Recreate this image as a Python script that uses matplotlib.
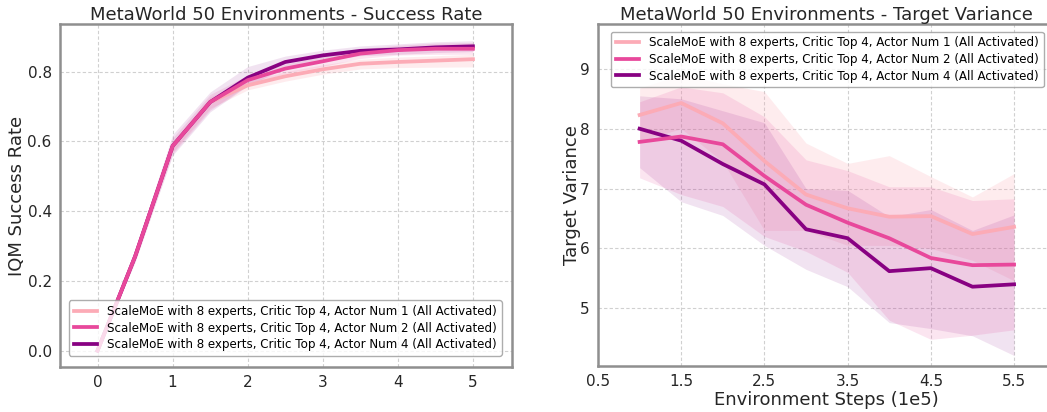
import matplotlib
matplotlib.use("Agg")
import matplotlib.pyplot as plt
import numpy as np

# ---- data ----
labels = [
    "ScaleMoE with 8 experts, Critic Top 4, Actor Num 1 (All Activated)",
    "ScaleMoE with 8 experts, Critic Top 4, Actor Num 2 (All Activated)",
    "ScaleMoE with 8 experts, Critic Top 4, Actor Num 4 (All Activated)",
]
colors = ["#fcabb6", "#e8489b", "#880182"]
line_z = [3, 5, 4]

# success rate (left panel)
sr_steps = [0, 0.5, 1, 1.5, 2, 2.5, 3, 3.5, 4, 4.5, 5]
sr_num1 = [0.0, 0.27, 0.587, 0.713, 0.761, 0.787, 0.807, 0.823, 0.828, 0.832, 0.836]
sr_num2 = [0.0, 0.27, 0.587, 0.713, 0.776, 0.809, 0.830, 0.852, 0.862, 0.866, 0.866]
sr_num4 = [0.0, 0.27, 0.587, 0.713, 0.783, 0.828, 0.847, 0.860, 0.864, 0.870, 0.873]
sr_num1_lo = [0.0, 0.26, 0.57, 0.695, 0.748, 0.773, 0.793, 0.808, 0.812, 0.813, 0.814]
sr_num1_hi = [0.0, 0.28, 0.60, 0.728, 0.773, 0.800, 0.820, 0.836, 0.842, 0.846, 0.850]
sr_num2_lo = [0.0, 0.255, 0.565, 0.69, 0.762, 0.795, 0.815, 0.838, 0.848, 0.850, 0.850]
sr_num2_hi = [0.0, 0.285, 0.61, 0.735, 0.790, 0.822, 0.845, 0.866, 0.876, 0.882, 0.884]
sr_num4_lo = [0.0, 0.255, 0.56, 0.685, 0.76, 0.810, 0.832, 0.846, 0.850, 0.855, 0.858]
sr_num4_hi = [0.0, 0.29, 0.62, 0.742, 0.815, 0.845, 0.862, 0.874, 0.880, 0.886, 0.889]

# target variance (right panel)
tv_steps = [1, 1.5, 2, 2.5, 3, 3.5, 4, 4.5, 5, 5.5]
tv_num1 = [8.23, 8.43, 8.09, 7.46, 6.90, 6.67, 6.53, 6.54, 6.24, 6.36]
tv_num2 = [7.78, 7.87, 7.74, 7.21, 6.73, 6.43, 6.17, 5.84, 5.72, 5.73]
tv_num4 = [8.00, 7.80, 7.41, 7.07, 6.32, 6.17, 5.62, 5.67, 5.36, 5.40]
tv_num1_lo = [7.80, 8.00, 7.45, 6.30, 6.30, 6.05, 6.05, 6.00, 5.80, 5.46]
tv_num1_hi = [8.68, 8.90, 8.75, 8.62, 7.76, 7.42, 7.55, 7.20, 6.86, 7.25]
tv_num2_lo = [7.18, 6.90, 6.70, 6.20, 5.95, 5.60, 4.80, 4.48, 4.55, 4.64]
tv_num2_hi = [8.45, 8.70, 8.60, 8.20, 7.48, 7.30, 7.03, 7.03, 6.80, 6.83]
tv_num4_lo = [7.35, 6.78, 6.55, 6.05, 5.65, 5.36, 4.76, 4.66, 4.54, 4.21]
tv_num4_hi = [8.55, 8.50, 8.30, 8.10, 7.00, 6.97, 6.53, 6.65, 6.30, 6.56]

plt.rcParams["font.family"] = ["DejaVu Sans"]

W, H = 1047, 412
fig = plt.figure(figsize=(W / 100, H / 100), dpi=100)
ax1 = fig.add_axes([60 / W, 1 - 367 / H, 452 / W, 343 / H])
ax2 = fig.add_axes([598 / W, 1 - 366 / H, 456 / W, 342 / H])

band_alpha = [0.22, 0.14, 0.11]


def style(ax):
    ax.set_facecolor("white")
    for s in ax.spines.values():
        s.set_color("#8f8f8f")
        s.set_linewidth(1.8)
    ax.grid(True, linestyle=(0, (3, 2)), color="#d0d0d0", linewidth=0.8)
    ax.set_axisbelow(True)
    ax.tick_params(length=0, labelsize=11, colors="#262626", pad=6)


# left panel
style(ax1)
sr_means = [sr_num1, sr_num2, sr_num4]
sr_los = [sr_num1_lo, sr_num2_lo, sr_num4_lo]
sr_his = [sr_num1_hi, sr_num2_hi, sr_num4_hi]
for lo, hi, c, a in zip(sr_los, sr_his, colors, band_alpha):
    ax1.fill_between(sr_steps, lo, hi, color=c, alpha=a, linewidth=0)
for m, c, lab, z in zip(sr_means, colors, labels, line_z):
    ax1.plot(sr_steps, m, color=c, linewidth=2.7, label=lab, zorder=z)
ax1.set_xlim(-0.5, 5.52)
ax1.set_ylim(-0.047, 0.937)
ax1.set_xticks([0, 1, 2, 3, 4, 5])
ax1.set_yticks([0.0, 0.2, 0.4, 0.6, 0.8])
ax1.set_ylabel("IQM Success Rate", fontsize=13, color="#262626", labelpad=1)
ax1.set_title("MetaWorld 50 Environments - Success Rate", fontsize=13,
              color="#262626", pad=3)
ax1.legend(loc="lower right", fontsize=8.6, framealpha=0.8, edgecolor="#999999",
           handlelength=2.0, borderpad=0.4, labelspacing=0.3,
           bbox_to_anchor=(0.99, 0.015))

# right panel
style(ax2)
tv_means = [tv_num1, tv_num2, tv_num4]
tv_los = [tv_num1_lo, tv_num2_lo, tv_num4_lo]
tv_his = [tv_num1_hi, tv_num2_hi, tv_num4_hi]
for lo, hi, c, a in zip(tv_los, tv_his, colors, band_alpha):
    ax2.fill_between(tv_steps, lo, hi, color=c, alpha=a, linewidth=0)
for m, c, lab, z in zip(tv_means, colors, labels, line_z):
    ax2.plot(tv_steps, m, color=c, linewidth=2.7, label=lab, zorder=z)
ax2.set_xlim(0.5, 5.98)
ax2.set_ylim(4.035, 9.75)
ax2.set_xticks([0.5, 1.5, 2.5, 3.5, 4.5, 5.5])
ax2.set_xticklabels(["0.5", "1.5", "2.5", "3.5", "4.5", "5.5"])
ax2.set_yticks([5, 6, 7, 8, 9])
ax2.set_ylabel("Target Variance", fontsize=13, color="#262626", labelpad=-1)
ax2.set_xlabel("Environment Steps (1e5)", fontsize=13, color="#262626", labelpad=1)
ax2.set_title("MetaWorld 50 Environments - Target Variance", fontsize=13,
              color="#262626", pad=3)
ax2.legend(loc="upper left", fontsize=8.6, framealpha=0.8, edgecolor="#999999",
           handlelength=2.0, borderpad=0.4, labelspacing=0.3,
           bbox_to_anchor=(0.015, 0.995))

fig.savefig("out.png", dpi=100, facecolor="white")
